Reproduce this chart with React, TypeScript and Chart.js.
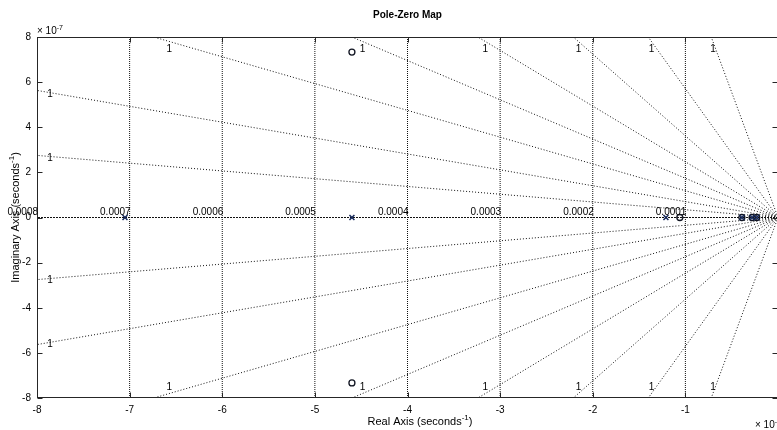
import { useEffect, useRef } from "react";
import { Chart, registerables } from "chart.js";

Chart.register(...registerables);

// Real parts in units of 1e-4 s^-1, imaginary parts in units of 1e-7 s^-1
const poleReal = [-7.05, -4.6, -1.21, -0.39, -0.28, -0.23];
const poleImag = [0, 0, 0, 0, 0, 0];
const zeroReal = [-4.6, -4.6, -1.06, -0.39, -0.28, -0.23];
const zeroImag = [7.33, -7.33, 0, 0, 0, 0];

// Damping-ratio grid lines: slope (imag / real, in the scaled units) of the upper half
const dampingSlopes = [0.344, 0.704, 1.187, 1.739, 2.469, 3.62, 5.71, 11.1];
const dampingLabel = "1";

// Natural-frequency grid (units of 1e-4 s^-1) and labels
const wnValues = [-1, -2, -3, -4, -5, -6, -7, -8];
const wnLabels = ["0.0001", "0.0002", "0.0003", "0.0004", "0.0005", "0.0006", "0.0007", "0.0008"];

const xTicks = [-8, -7, -6, -5, -4, -3, -2, -1, 0];
const yTicks = [-8, -6, -4, -2, 0, 2, 4, 6, 8];

const FONT = '"Liberation Sans", Arial, Helvetica, sans-serif';
const GRID = "#111";

function drawSup(
  ctx: CanvasRenderingContext2D,
  base: string,
  sup: string,
  tail: string,
  x: number,
  y: number,
  size: number,
  align: "left" | "center",
  bold = false
) {
  const f = `${bold ? "bold " : ""}${size}px ${FONT}`;
  const fs = `${bold ? "bold " : ""}${Math.round(size * 0.72)}px ${FONT}`;
  ctx.font = f;
  const wb = ctx.measureText(base).width;
  const wt = ctx.measureText(tail).width;
  ctx.font = fs;
  const ws = ctx.measureText(sup).width;
  const total = wb + ws + wt;
  let sx = align === "center" ? x - total / 2 : x;
  ctx.textAlign = "left";
  ctx.textBaseline = "alphabetic";
  ctx.font = f;
  ctx.fillText(base, sx, y);
  sx += wb;
  ctx.font = fs;
  ctx.fillText(sup, sx, y - size * 0.42);
  sx += ws;
  ctx.font = f;
  ctx.fillText(tail, sx, y);
}

const overlay = {
  id: "overlay",
  afterDraw(chart: any) {
    const { ctx, chartArea: a, scales } = chart;
    const xs = scales.x;
    const ys = scales.y;
    ctx.save();
    ctx.fillStyle = "#000";

    // frame
    ctx.strokeStyle = "#262626";
    ctx.lineWidth = 1;
    ctx.setLineDash([]);
    const L = Math.round(a.left) + 0.5;
    const R = Math.round(a.right) - 0.5;
    const T = Math.round(a.top) + 0.5;
    const B = Math.round(a.bottom) - 0.5;
    ctx.strokeRect(L, T, R - L, B - T);

    // inward ticks
    ctx.beginPath();
    xTicks.forEach((v) => {
      const px = Math.round(xs.getPixelForValue(v)) + 0.5;
      ctx.moveTo(px, B);
      ctx.lineTo(px, B - 5);
      ctx.moveTo(px, T);
      ctx.lineTo(px, T + 5);
    });
    yTicks.forEach((v) => {
      const py = Math.round(ys.getPixelForValue(v)) + 0.5;
      ctx.moveTo(L, py);
      ctx.lineTo(L + 5, py);
      ctx.moveTo(R, py);
      ctx.lineTo(R - 5, py);
    });
    ctx.stroke();

    // damping labels
    const ox = xs.getPixelForValue(0);
    const oy = ys.getPixelForValue(0);
    ctx.font = `10px ${FONT}`;
    ctx.textAlign = "center";
    ctx.textBaseline = "middle";
    dampingSlopes.forEach((s) => {
      const px8 = xs.getPixelForValue(-8);
      const py8 = ys.getPixelForValue(8 * s);
      const k = (oy - py8) / (ox - px8); // pixels up per pixel left
      [1, -1].forEach((sign) => {
        if (py8 >= a.top) {
          const lx = a.left + 13;
          const ly = oy - sign * k * (ox - lx) + 1.5;
          ctx.fillText(dampingLabel, lx, ly);
        } else {
          const yy = sign > 0 ? a.top + 4.5 : a.bottom - 4.5;
          const lx = ox - Math.abs(oy - yy) / k;
          const ly = sign > 0 ? a.top + 12 : a.bottom - 11;
          ctx.fillText(dampingLabel, lx, ly);
        }
      });
    });

    // natural frequency labels
    ctx.textAlign = "right";
    ctx.textBaseline = "alphabetic";
    wnValues.forEach((v, i) => {
      ctx.fillText(wnLabels[i], xs.getPixelForValue(v) + 1, oy - 3);
    });

    // title
    ctx.font = `bold 10px ${FONT}`;
    ctx.textAlign = "center";
    ctx.fillText("Pole-Zero Map", (a.left + a.right) / 2, 18);

    // axis titles
    drawSup(ctx, "Real Axis (seconds", "-1", ")", 420, 425, 11, "center");
    ctx.save();
    ctx.translate(19, (a.top + a.bottom) / 2);
    ctx.rotate(-Math.PI / 2);
    drawSup(ctx, "Imaginary Axis (seconds", "-1", ")", 0, 0, 11, "center");
    ctx.restore();

    // exponents
    drawSup(ctx, "\u00d7 10", "-7", "", a.left, 34, 10, "left");
    drawSup(ctx, "\u00d7 10", "-4", "", 755, 428, 10, "left");

    ctx.restore();
  },
};

export default function App() {
  const ref = useRef<HTMLCanvasElement | null>(null);

  useEffect(() => {
    document.documentElement.style.overflow = "hidden";
    document.body.style.overflow = "hidden";
    const canvas = ref.current;
    if (!canvas) return;

    const lineDs = (pts: { x: number; y: number }[], dash: number[]) => ({
      type: "scatter" as const,
      data: pts,
      showLine: true,
      borderColor: GRID,
      borderWidth: 1,
      borderDash: dash,
      pointRadius: 0,
      fill: false,
      order: 2,
    });

    const datasets: any[] = [];
    datasets.push({
      data: poleReal.map((x, i) => ({ x, y: poleImag[i] })),
      pointStyle: "crossRot",
      pointRadius: 3.5,
      borderColor: "#15285a",
      borderWidth: 1.5,
      showLine: false,
      order: 0,
    });
    datasets.push({
      data: zeroReal.map((x, i) => ({ x, y: zeroImag[i] })),
      pointStyle: "circle",
      pointRadius: 3,
      borderColor: "#111522",
      backgroundColor: "rgba(0,0,0,0)",
      borderWidth: 1.3,
      showLine: false,
      order: 0,
    });
    // real axis (zeta = 1 line)
    datasets.push(lineDs([{ x: 0, y: 0 }, { x: -8, y: 0 }], [2, 1]));
    dampingSlopes.forEach((s) => {
      datasets.push(lineDs([{ x: 0, y: 0 }, { x: -8, y: 8 * s }], [1, 2]));
      datasets.push(lineDs([{ x: 0, y: 0 }, { x: -8, y: -8 * s }], [1, 2]));
    });
    wnValues.forEach((v) => {
      datasets.push(lineDs([{ x: v, y: -8 }, { x: v, y: 8 }], [1, 1]));
    });

    const tickFont = { family: FONT, size: 10 };

    const chart = new Chart(canvas, {
      type: "scatter",
      data: { datasets },
      options: {
        animation: false,
        responsive: false,
        devicePixelRatio: 1,
        layout: { padding: { top: 37, right: 12, left: 0, bottom: 0 } },
        plugins: {
          legend: { display: false },
          tooltip: { enabled: false },
          title: { display: false },
        },
        scales: {
          x: {
            type: "linear",
            min: -8,
            max: 0,
            grid: { display: false, drawTicks: false },
            border: { display: false },
            afterBuildTicks: (s: any) => {
              s.ticks = xTicks.map((v) => ({ value: v }));
            },
            afterFit: (s: any) => {
              s.height = 32;
            },
            ticks: {
              padding: 6,
              color: "#000",
              font: tickFont,
              autoSkip: false,
              maxRotation: 0,
              callback: (v: any) => (v === 0 ? "" : String(v)),
            },
          },
          y: {
            type: "linear",
            min: -8,
            max: 8,
            grid: { display: false, drawTicks: false },
            border: { display: false },
            afterBuildTicks: (s: any) => {
              s.ticks = yTicks.map((v) => ({ value: v }));
            },
            afterFit: (s: any) => {
              s.width = 37;
            },
            ticks: {
              padding: 6,
              color: "#000",
              font: tickFont,
              autoSkip: false,
              callback: (v: any) => String(v),
            },
          },
        },
      } as any,
      plugins: [overlay],
    });

    return () => chart.destroy();
  }, []);

  return (
    <canvas
      ref={ref}
      width={790}
      height={430}
      style={{ position: "fixed", left: 0, top: 0, width: 790, height: 430, background: "#fff" }}
    />
  );
}
